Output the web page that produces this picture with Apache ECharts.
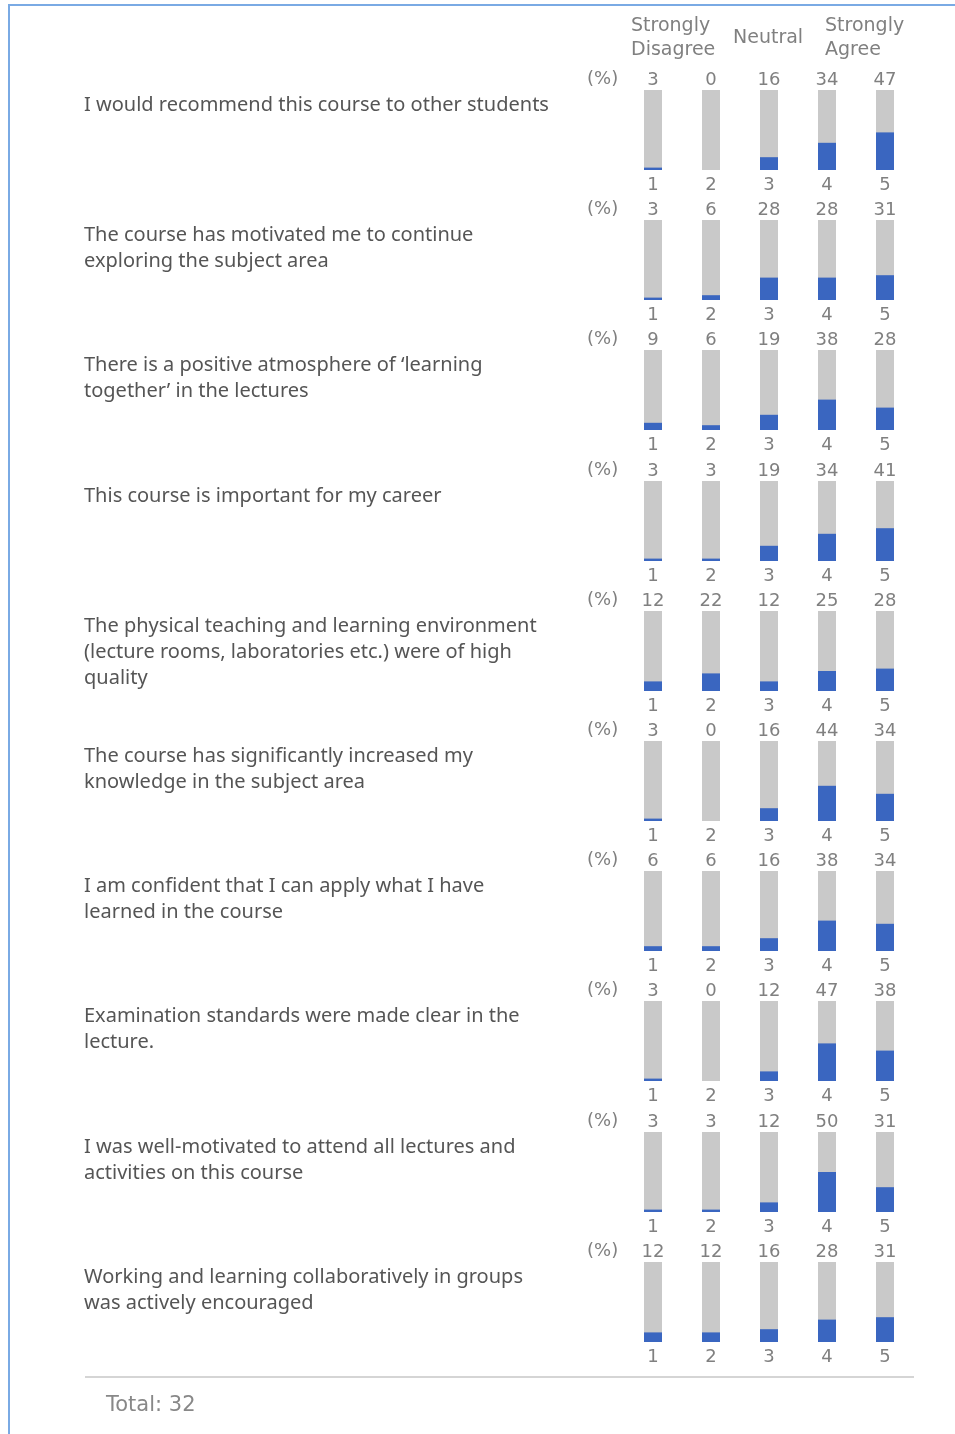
<!DOCTYPE html>
<html>
<head>
<meta charset="utf-8">
<script src="https://cdn.jsdelivr.net/npm/echarts@6/dist/echarts.min.js"></script>
<style>
  html, body { margin: 0; padding: 0; background: #fff; }
  #chart { width: 955px; height: 1434px; }
</style>
</head>
<body>
<div id="chart"></div>
<script>
const questions = [
  'I would recommend this course to other students',
  'The course has motivated me to continue\nexploring the subject area',
  'There is a positive atmosphere of \u2018learning\ntogether\u2019 in the lectures',
  'This course is important for my career',
  'The physical teaching and learning environment\n(lecture rooms, laboratories etc.) were of high\nquality',
  'The course has significantly increased my\nknowledge in the subject area',
  'I am confident that I can apply what I have\nlearned in the course',
  'Examination standards were made clear in the\nlecture.',
  'I was well-motivated to attend all lectures and\nactivities on this course',
  'Working and learning collaboratively in groups\nwas actively encouraged'
]

const scalePoints = ['1', '2', '3', '4', '5']

// percent answering each scale point, one array per question
const recommend = [3, 0, 16, 34, 47]
const motivated = [3, 6, 28, 28, 31]
const atmosphere = [9, 6, 19, 38, 28]
const career = [3, 3, 19, 34, 41]
const environment = [12, 22, 12, 25, 28]
const knowledge = [3, 0, 16, 44, 34]
const confident = [6, 6, 16, 38, 34]
const examination = [3, 0, 12, 47, 38]
const attendance = [3, 3, 12, 50, 31]
const groupwork = [12, 12, 16, 28, 31]

const totalResponses = 32

const rows = [recommend, motivated, atmosphere, career, environment,
  knowledge, confident, examination, attendance, groupwork]

const numFont = '"DejaVu Sans", Verdana, sans-serif'
const textFont = '"Noto Sans", sans-serif'
const numColor = '#808080'
const rowTop = (i) => Math.round(90 + i * 130.2)

const grid = []
const xAxis = []
const yAxis = []
const series = []
const title = []

const numStyle = { color: numColor, fontFamily: numFont, fontSize: 18 }

rows.forEach((values, i) => {
  grid.push({ left: 624, width: 290, top: rowTop(i), height: 80 })

  xAxis.push({
    type: 'category',
    gridIndex: i,
    data: scalePoints,
    axisLine: { show: false },
    axisTick: { show: false },
    axisLabel: { ...numStyle, margin: 6 },
  })
  xAxis.push({
    type: 'category',
    gridIndex: i,
    position: 'top',
    data: values.map(String),
    axisLine: { show: false },
    axisTick: { show: false },
    axisLabel: { ...numStyle, margin: 1 },
  })

  yAxis.push({
    type: 'value',
    gridIndex: i,
    min: 0,
    max: 100,
    show: false,
  })

  series.push({
    type: 'bar',
    xAxisIndex: i * 2,
    yAxisIndex: i,
    data: values,
    barWidth: 18,
    showBackground: true,
    backgroundStyle: { color: '#c9c9c9' },
    itemStyle: { color: '#3a66c0' },
    silent: true,
  })

  title.push({
    text: questions[i],
    left: 84,
    top: rowTop(i) + 2,
    padding: 0,
    textStyle: {
      color: '#555',
      fontFamily: textFont,
      fontSize: 20,
      fontWeight: 'normal',
      lineHeight: 26,
    },
  })

  title.push({
    text: '(%)',
    left: 587,
    top: rowTop(i) - 22,
    padding: 0,
    textStyle: { ...numStyle, fontWeight: 'normal', lineHeight: 22 },
  })
})

const headerStyle = {
  ...numStyle,
  fontSize: 19,
  fontWeight: 'normal',
  lineHeight: 24,
}
title.push(
  { text: 'Strongly\nDisagree', left: 631, top: 14, padding: 0, textStyle: headerStyle },
  { text: 'Neutral', left: 733, top: 26, padding: 0, textStyle: headerStyle },
  { text: 'Strongly\nAgree', left: 825, top: 14, padding: 0, textStyle: headerStyle },
  {
    text: 'Total: ' + totalResponses,
    left: 106,
    top: 1394,
    padding: 0,
    textStyle: { ...headerStyle, fontSize: 21, color: '#888' },
  }
)

const chart = echarts.init(document.getElementById('chart'))
chart.setOption({
  animation: false,
  backgroundColor: '#fff',
  title,
  grid,
  xAxis,
  yAxis,
  series,
  graphic: [
    { type: 'line', shape: { x1: 9, y1: 5, x2: 9, y2: 1434 }, style: { stroke: '#7aaae4', lineWidth: 2 } },
    { type: 'line', shape: { x1: 8, y1: 5, x2: 955, y2: 5 }, style: { stroke: '#7aaae4', lineWidth: 2 } },
    { type: 'line', shape: { x1: 85, y1: 1377, x2: 914, y2: 1377 }, style: { stroke: '#d5d5d5', lineWidth: 2 } },
  ],
})
</script>
</body>
</html>
